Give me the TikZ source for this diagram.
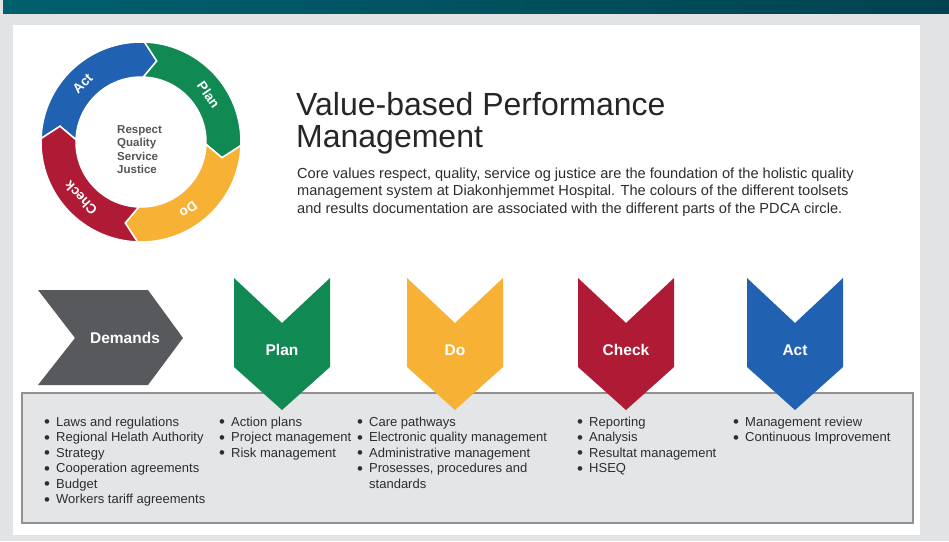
\documentclass[tikz,border=0pt]{standalone}
\usepackage{fontspec}
\setmainfont{Liberation Sans}

\definecolor{tealL}{RGB}{0,96,110}
\definecolor{tealR}{RGB}{0,66,80}
\definecolor{pagegray}{RGB}{226,227,229}
\definecolor{boxgray}{RGB}{227,229,230}
\definecolor{boxline}{RGB}{145,145,145}
\definecolor{plangreen}{RGB}{16,137,83}
\definecolor{doyellow}{RGB}{247,178,54}
\definecolor{checkred}{RGB}{175,27,52}
\definecolor{actblue}{RGB}{32,97,178}
\definecolor{demandgray}{RGB}{88,89,92}
\definecolor{textdark}{RGB}{45,45,45}
\definecolor{coregray}{RGB}{85,85,85}

\newcommand{\bl}{\makebox[12pt][l]{\raisebox{-1.4pt}{\scalebox{1.3}{\textbullet}}}}

\tikzset{
  ringseg/.style={draw=white, line width=1.5pt},
  ringtext/.style={text=white, inner sep=0pt, font=\fontsize{13.5}{13.5}\selectfont\bfseries},
  chevtext/.style={text=white, inner sep=0pt, font=\fontsize{15.5}{15.5}\selectfont\bfseries},
  titletext/.style={anchor=north west, inner sep=0pt, text=black!85, font=\fontsize{32}{32}\selectfont},
  bodytext/.style={anchor=north west, inner sep=0pt, text=textdark, font=\fontsize{14.6}{17.5}\selectfont},
  bulletcol/.style={anchor=north west, inner sep=0pt, text=textdark, font=\fontsize{13}{15.5}\selectfont}
}

\begin{document}
\begin{tikzpicture}[x=1pt,y=1pt]
\useasboundingbox (0,0) rectangle (949,-541);

% background
\fill[pagegray] (0,0) rectangle (949,-541);
\shade[left color=tealL, right color=tealR] (3,0) rectangle (949,-13);
\fill[white] (13,-25) rectangle (920,-535);

% PDCA circle
\coordinate (ringc) at (141,-142);
\begin{scope}[shift={(ringc)}]
\fill[actblue, ringseg] (178:100) arc[start angle=178, end angle=88, radius=100] -- (79:82.5) -- (88:65) arc[start angle=88, end angle=178, radius=65] -- (169:82.5) -- cycle;
\fill[plangreen, ringseg] (88:100) arc[start angle=88, end angle=-2, radius=100] -- (-11:82.5) -- (-2:65) arc[start angle=-2, end angle=88, radius=65] -- (79:82.5) -- cycle;
\fill[doyellow, ringseg] (-2:100) arc[start angle=-2, end angle=-92, radius=100] -- (-101:82.5) -- (-92:65) arc[start angle=-92, end angle=-2, radius=65] -- (-11:82.5) -- cycle;
\fill[checkred, ringseg] (-92:100) arc[start angle=-92, end angle=-182, radius=100] -- (-191:82.5) -- (-182:65) arc[start angle=-182, end angle=-92, radius=65] -- (-101:82.5) -- cycle;

\node[ringtext, rotate=45] (actlbl) at (135:82.5) {Act};
\node[ringtext, rotate=-55] (planlbl) at (35:82.5) {Plan};
\node[ringtext, rotate=-145] (dolbl) at (-55:82.5) {Do};
\node[ringtext, rotate=133] (checklbl) at (-137:82.5) {Check};
\end{scope}

\node[anchor=north west, inner sep=0pt, text=coregray, font=\fontsize{11.5}{13.5}\selectfont\bfseries] (values) at (117,-123.5)
  {\begin{tabular}{@{}l@{}}Respect\\Quality\\Service\\Justice\end{tabular}};

% heading
\node[titletext] (title) at (296,-92.5)
  {\begin{tabular}{@{}l@{}}Value-based Performance\\Management\end{tabular}};
\node[bodytext] (intro) at (297,-165.75)
  {\begin{tabular}{@{}l@{}}Core values respect, quality, service og justice are the foundation of the holistic quality\\
  management system at Diakonhjemmet Hospital. The colours of the different toolsets\\
  and results documentation are associated with the different parts of the PDCA circle.\end{tabular}};

% toolset box
\draw[boxline, fill=boxgray, line width=1.2pt] (22,-393) rectangle (913,-523);

% chevrons
\fill[demandgray] (38,-290) -- (148,-290) -- (183,-338) -- (148,-385) -- (38,-385) -- (75,-338) -- cycle;
\node[chevtext] (demands) at (125,-338) {Demands};

\fill[plangreen, shift={(282,0)}] (-48,-278) -- (0,-323) -- (48,-278) -- (48,-367) -- (0,-410) -- (-48,-367) -- cycle;
\node[chevtext] (plan) at (282,-350) {Plan};

\fill[doyellow, shift={(455,0)}] (-48,-278) -- (0,-323) -- (48,-278) -- (48,-367) -- (0,-410) -- (-48,-367) -- cycle;
\node[chevtext] (do) at (455,-350) {Do};

\fill[checkred, shift={(626,0)}] (-48,-278) -- (0,-323) -- (48,-278) -- (48,-367) -- (0,-410) -- (-48,-367) -- cycle;
\node[chevtext] (check) at (626,-350) {Check};

\fill[actblue, shift={(795,0)}] (-48,-278) -- (0,-323) -- (48,-278) -- (48,-367) -- (0,-410) -- (-48,-367) -- cycle;
\node[chevtext] (act) at (795,-350) {Act};

% lists
\node[bulletcol] (demandslist) at (44,-415.15)
  {\begin{tabular}{@{}l@{}}\bl Laws and regulations\\\bl Regional Helath Authority\\\bl Strategy\\\bl Cooperation agreements\\\bl Budget\\\bl Workers tariff agreements\end{tabular}};
\node[bulletcol] (planlist) at (219,-415.15)
  {\begin{tabular}{@{}l@{}}\bl Action plans\\\bl Project management\\\bl Risk management\end{tabular}};
\node[bulletcol] (dolist) at (357,-415.15)
  {\begin{tabular}{@{}l@{}}\bl Care pathways\\\bl Electronic quality management\\\bl Administrative management\\\bl Prosesses, procedures and\\\hspace*{12pt}standards\end{tabular}};
\node[bulletcol] (checklist) at (577,-415.15)
  {\begin{tabular}{@{}l@{}}\bl Reporting\\\bl Analysis\\\bl Resultat management\\\bl HSEQ\end{tabular}};
\node[bulletcol] (actlist) at (733,-415.15)
  {\begin{tabular}{@{}l@{}}\bl Management review\\\bl Continuous Improvement\end{tabular}};

\end{tikzpicture}
\end{document}
